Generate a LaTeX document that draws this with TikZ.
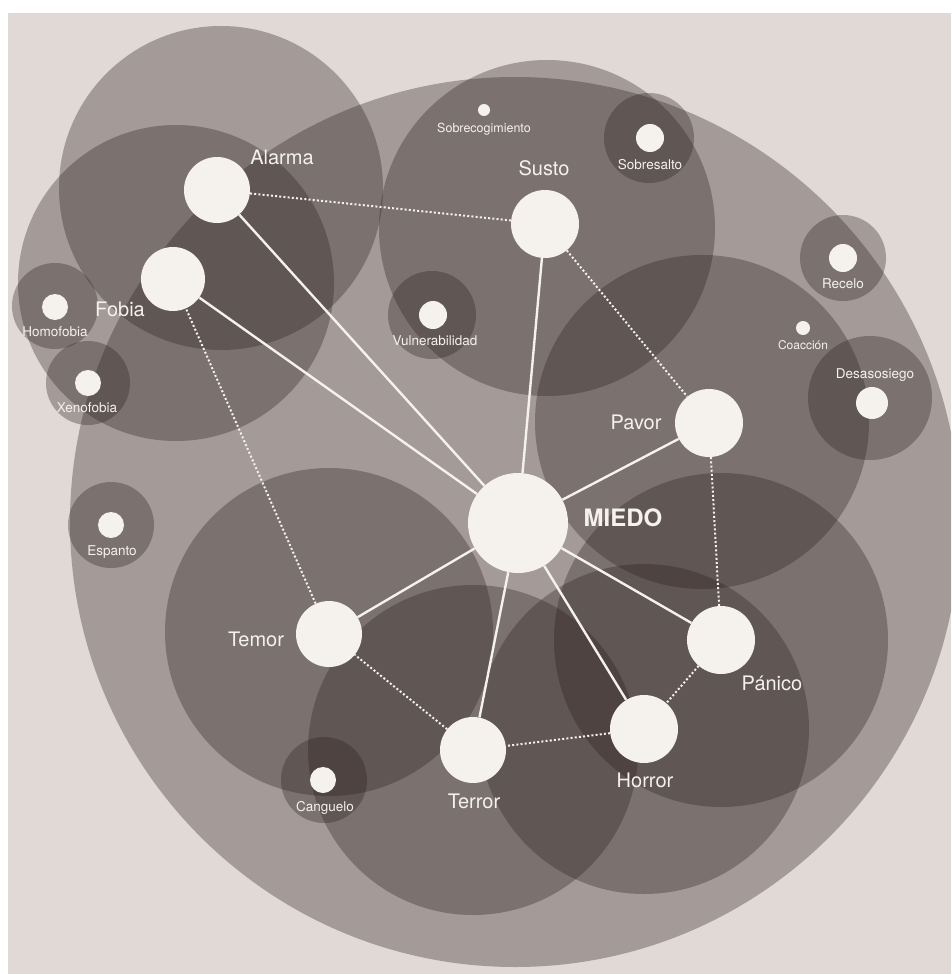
\documentclass[tikz,border=0pt]{standalone}
\usepackage{fontspec}
\setmainfont{TeX Gyre Heros}

\definecolor{paper}{HTML}{E0D9D5}
\definecolor{ink}{HTML}{2A1F1D}
\definecolor{chalk}{HTML}{F5F1ED}

\tikzset{
  halo/.style={fill=ink, fill opacity=0.33},
  hub/.style={circle, fill=chalk, inner sep=0pt, minimum size=#1},
  hub/.default=66pt,
  spoke/.style={draw=chalk, line width=2.4pt},
  link/.style={draw=chalk, line width=2pt, dash pattern=on 2pt off 2.2pt},
  word/.style={text=chalk, inner sep=0pt, text height=0.72em, text depth=0pt,
    font=\fontsize{20}{24}\selectfont},
  tiny/.style={word, font=\fontsize{13.5}{16}\selectfont},
}

\begin{document}
\begin{tikzpicture}[x=1pt, y=-1pt]

    % --- Paper ---
    \fill[white] (0,0) rectangle (951,974);
    \fill[paper] (8,13) rectangle (951,974);
    \useasboundingbox (0,0) rectangle (951,974);

    % --- Shaded fields (drawn first, they overlap) ---
    \begin{scope}
    \clip (8,13) rectangle (951,974);

    % the large field holding everything
    \fill[halo] (515,522) circle[radius=445];

    % fields of the main words
    \fill[halo] (221,188) circle[radius=162];
    \fill[halo] (176,283) circle[radius=158];
    \fill[halo] (547,228) circle[radius=168];
    \fill[halo] (702,422) circle[radius=167];
    \fill[halo] (329,632) circle[radius=164];
    \fill[halo] (473,750) circle[radius=165];
    \fill[halo] (644,729) circle[radius=165];
    \fill[halo] (721,640) circle[radius=167];

    % fields of the minor words
    \fill[halo] (55,306) circle[radius=43];
    \fill[halo] (88,383) circle[radius=42];
    \fill[halo] (432,315) circle[radius=44];
    \fill[halo] (649,138) circle[radius=45];
    \fill[halo] (843,258) circle[radius=43];
    \fill[halo] (870,398) circle[radius=62];
    \fill[halo] (111,525) circle[radius=43];
    \fill[halo] (324,780) circle[radius=43];
    \end{scope}

    % --- Main words ---
    \node[hub=100pt] (Miedo) at (518,523) {};
    \node[hub] (Alarma) at (217,190) {};
    \node[hub=64pt] (Fobia) at (173,279) {};
    \node[hub=68pt] (Susto) at (545,224) {};
    \node[hub=68pt] (Pavor) at (709,423) {};
    \node[hub=68pt] (Panico) at (721,640) {};
    \node[hub=68pt] (Horror) at (644,729) {};
    \node[hub] (Terror) at (473,750) {};
    \node[hub] (Temor) at (329,634) {};

    % --- Minor words ---
    \node[hub=26pt] (Homofobia) at (55,307) {};
    \node[hub=26pt] (Xenofobia) at (88,383) {};
    \node[hub=28pt] (Vulnerabilidad) at (433,315) {};
    \node[hub=12pt] (Sobrecogimiento) at (484,110) {};
    \node[hub=28pt] (Sobresalto) at (650,138) {};
    \node[hub=28pt] (Recelo) at (843,258) {};
    \node[hub=14pt] (Coaccion) at (803,328) {};
    \node[hub=32pt] (Desasosiego) at (872,403) {};
    \node[hub=26pt] (Espanto) at (111,525) {};
    \node[hub=26pt] (Canguelo) at (323,780) {};

    % --- Solid links to MIEDO ---
    \foreach \w in {Alarma,Fobia,Susto,Pavor,Panico,Horror,Terror,Temor}
      \draw[spoke] (Miedo) -- (\w);

    % --- Dotted links round the ring ---
    \draw[link] (Alarma) -- (Susto);
    \draw[link] (Susto) -- (Pavor);
    \draw[link] (Pavor) -- (Panico);
    \draw[link] (Panico) -- (Horror);
    \draw[link] (Horror) -- (Terror);
    \draw[link] (Terror) -- (Temor);
    \draw[link] (Temor) -- (Fobia);

    % --- Labels ---
    \node[word, font=\fontsize{24}{28}\bfseries] (tMiedo) at (623,523) {MIEDO};
    \node[word] (tAlarma) at (282,161) {Alarma};
    \node[word] (tFobia) at (120,313) {Fobia};
    \node[word] (tSusto) at (544,172) {Susto};
    \node[word] (tPavor) at (636,426) {Pavor};
    \node[word] (tPanico) at (772,687) {Pánico};
    \node[word] (tHorror) at (645,784) {Horror};
    \node[word] (tTerror) at (474,805) {Terror};
    \node[word] (tTemor) at (256,643) {Temor};

    \node[tiny] (tHomofobia) at (55,333) {Homofobia};
    \node[tiny] (tXenofobia) at (87,409) {Xenofobia};
    \node[tiny] (tVulnerabilidad) at (435,342) {Vulnerabilidad};
    \node[tiny, font=\fontsize{12.5}{15}\selectfont] (tSobrecogimiento) at (484,129) {Sobrecogimiento};
    \node[tiny] (tSobresalto) at (650,166) {Sobresalto};
    \node[tiny] (tRecelo) at (843,285) {Recelo};
    \node[tiny, font=\fontsize{12}{14}\selectfont] (tCoaccion) at (803,346) {Coacción};
    \node[tiny] (tDesasosiego) at (875,375) {Desasosiego};
    \node[tiny] (tEspanto) at (112,552) {Espanto};
    \node[tiny] (tCanguelo) at (325,808) {Canguelo};

\end{tikzpicture}
\end{document}
